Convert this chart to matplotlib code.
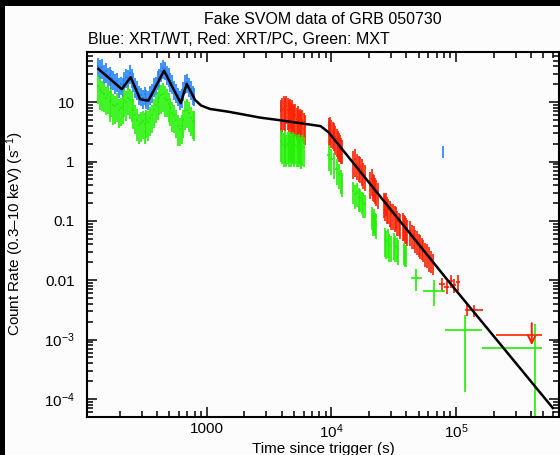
import numpy as np
import matplotlib
matplotlib.use('Agg')
import matplotlib.pyplot as plt
from matplotlib.patches import Rectangle

plt.rcParams['font.family'] = ['Liberation Sans', 'DejaVu Sans']
plt.rcParams['mathtext.fontset'] = 'custom'
plt.rcParams['mathtext.rm'] = 'Liberation Sans'

# colours of the three instruments
c_wt = '#2080ff'
c_pc = '#ff2000'
c_mxt = '#20f000'

# --- XRT/WT (blue), early flaring part
wt_t = [135, 140, 145, 150, 155, 160, 166, 172, 178, 184, 190, 197, 204, 211, 218, 225,
        233, 241, 249, 258, 267, 276, 286, 296, 306, 317, 328, 339, 351, 363, 376, 389,
        403, 417, 431, 446, 462, 478, 494, 511, 529, 548, 567, 587, 607, 628, 650, 673,
        696, 720, 745, 771, 797]
wt_r = [41, 38, 39, 31, 33, 28, 29, 26, 25, 22, 23, 19, 20, 19, 24, 27,
        26, 31, 27, 23, 19, 17, 14, 13, 12, 13.5, 12, 11.5, 14, 15, 19, 20,
        25, 27, 34, 38, 36, 30, 28, 23, 21, 17, 15, 13, 11.5, 12.5, 16, 21,
        22, 19, 17, 14, 13]
wt_e = [14, 13, 14, 11, 12, 10, 10, 9, 9, 8, 8, 7, 7, 7, 8, 9.5,
        9, 11, 9.5, 8, 7, 6, 5, 4.5, 4.2, 4.7, 4.2, 4, 5, 5.2, 6.6, 7,
        8.8, 9.5, 12, 13, 12.5, 10.5, 9.8, 8, 7.3, 6, 5.2, 4.5, 4, 4.4, 5.6, 7.3,
        7.7, 6.6, 6, 4.9, 4.5]

# isolated WT bins later on
wt2_t = [3930, 9480, 78400]
wt2_r = [8.5, 4.2, 1.5]
wt2_e = [1.5, 0.6, 0.35]

# --- MXT (green), early part
mx_t = wt_t
mx_r = [19, 16, 15, 14, 12, 13, 10, 11, 9, 8.5, 9.5, 7.5, 8, 8.5, 11, 10,
        12, 11, 10, 7.5, 6, 5, 4.2, 4.5, 4.8, 4.3, 5, 4.6, 5.5, 6, 7.5, 9,
        10, 12, 13, 14, 12, 11, 9.5, 8, 6.5, 6, 5, 4, 3.6, 4, 5, 7,
        7.5, 6.5, 5.5, 4.8, 4.6]
mx_e = [9.5, 8.5, 7.8, 7.2, 6, 6.6, 5.4, 5.4, 4.8, 4.2, 4.8, 3.8, 4, 4.2, 5.4, 5.2,
        6, 5.8, 5.4, 4, 3.1, 2.8, 2.2, 2.4, 2.4, 2.3, 2.5, 2.4, 2.8, 3, 3.8, 4.6,
        5, 6, 6.6, 7.2, 6.4, 5.4, 4.8, 4, 3.4, 3, 2.5, 2.2, 1.8, 2, 2.5, 3.6,
        3.8, 3.4, 2.8, 2.4, 2.4]

# --- XRT/PC (red), orbits
pc_t = [3950, 4050, 4150, 4250, 4350, 4450, 4550, 4650, 4750, 4850, 4950, 5050, 5150,
        5250, 5350, 5450, 5550, 5700, 5850, 6000, 6150,
        9500, 9750, 10000, 10250, 10500, 10750, 11000, 11250, 11500, 11750, 12000, 12250,
        15000, 15500, 16000, 16500, 17000, 17500, 18000, 18600,
        20500, 21000, 21500, 22000, 22500, 23000, 23600,
        26200, 26800, 27400, 28000, 28600, 29300, 30000,
        31400, 32200, 33000, 33800, 34600, 35400,
        37700, 38500, 39300, 40000, 40700,
        42800, 44200, 45600, 47000, 48500, 50000, 51700, 53400,
        54400, 56500, 58700, 61000, 63300, 65600]
pc_r = [7, 7.5, 8, 7.5, 8.5, 7.5, 7, 7.5, 6.5, 7, 6, 5.8, 6,
        5.2, 5.5, 4.8, 5, 4.6, 4.8, 4.3, 4.0,
        3.6, 3.8, 3.4, 3.1, 3.0, 2.6, 2.4, 2.2, 2.0, 1.9, 1.7, 1.6,
        1.0, 1.1, 0.9, 0.85, 0.8, 0.75, 0.65, 0.6,
        0.45, 0.5, 0.42, 0.4, 0.36, 0.33, 0.3,
        0.2, 0.19, 0.21, 0.17, 0.16, 0.15, 0.13,
        0.13, 0.12, 0.12, 0.1, 0.095, 0.09,
        0.09, 0.085, 0.08, 0.075, 0.07,
        0.068, 0.06, 0.058, 0.05, 0.047, 0.043, 0.04, 0.037,
        0.034, 0.03, 0.028, 0.025, 0.022, 0.02]
pc_e = [4, 4.3, 4.6, 4.2, 4.2, 4.1, 3.8, 4, 3.6, 3.8, 3.4, 3.2, 3.3,
        2.9, 3, 2.7, 2.8, 2.5, 2.6, 2.3, 2.1,
        1.8, 1.9, 1.7, 1.5, 1.5, 1.3, 1.2, 1.1, 1.0, 0.9, 0.8, 0.7,
        0.5, 0.55, 0.42, 0.4, 0.37, 0.36, 0.3, 0.28,
        0.22, 0.24, 0.2, 0.19, 0.17, 0.15, 0.14,
        0.09, 0.09, 0.09, 0.08, 0.07, 0.07, 0.06,
        0.06, 0.055, 0.05, 0.045, 0.04, 0.04,
        0.045, 0.04, 0.04, 0.035, 0.033,
        0.03, 0.026, 0.025, 0.021, 0.02, 0.018, 0.017, 0.015,
        0.014, 0.013, 0.012, 0.011, 0.009, 0.008]

# --- MXT (green), orbits
mo_t = [3950, 4050, 4150, 4250, 4350, 4450, 4550, 4650, 4750, 4850, 4950, 5050, 5150,
        5250, 5350, 5450, 5550, 5700, 5850, 6000,
        9500, 10000, 10500, 11000, 11500, 12000, 12250,
        15000, 15500, 16000, 16500, 17000, 17500, 18000, 18600,
        21000, 21500, 22000, 22500, 23000,
        26800, 27500, 28200, 29000, 29800,
        31500, 32500, 33500, 34400,
        38200, 39200, 40000]
mo_r = [2.2, 2.0, 1.9, 2.1, 1.8, 2.0, 1.9, 2.1, 1.8, 1.9, 2.0, 1.7, 1.9,
        1.8, 1.7, 1.9, 1.7, 1.6, 1.8, 1.7,
        1.3, 1.1, 0.95, 0.75, 0.62, 0.5, 0.45,
        0.32, 0.28, 0.3, 0.25, 0.24, 0.22, 0.2, 0.19,
        0.12, 0.1, 0.11, 0.095, 0.09,
        0.05, 0.045, 0.048, 0.04, 0.038,
        0.042, 0.038, 0.036, 0.033,
        0.03, 0.028, 0.027]
mo_e = [1.2, 1.1, 1.1, 1.2, 1.0, 1.1, 1.1, 1.1, 1.0, 1.0, 1.1, 0.9, 1.0,
        1.0, 0.9, 1.0, 0.9, 0.85, 0.95, 0.9,
        0.6, 0.5, 0.45, 0.35, 0.28, 0.22, 0.2,
        0.13, 0.12, 0.13, 0.11, 0.1, 0.09, 0.09, 0.08,
        0.05, 0.045, 0.05, 0.04, 0.04,
        0.025, 0.022, 0.024, 0.02, 0.018,
        0.02, 0.018, 0.016, 0.015,
        0.012, 0.011, 0.01]

# late PC bins with time bars
pcl_t = [76900, 84300, 90800, 96600, 104000, 123000, 140000]
pcl_r = [0.0086, 0.0078, 0.0098, 0.0084, 0.0095, 0.0032, 0.0031]
pcl_e = [0.0022, 0.002, 0.0025, 0.0022, 0.0028, 0.0007, 0.0007]
pcl_lo = [4000, 3800, 3500, 3500, 4500, 5000, 12000]
pcl_hi = [4000, 3800, 3500, 3500, 4500, 5000, 26000]

# PC upper limit
ul_t = 405000
ul_r = 0.0012
ul_lo = 210000
ul_hi = 489000

# late MXT bins
mxl_t = [47500, 66700, 118000, 431000]
mxl_r = [0.0108, 0.0067, 0.00142, 0.00072]
mxl_tlo = [43400, 54700, 81900, 161000]
mxl_thi = [53100, 81900, 161000, 493000]
mxl_rlo = [0.0065, 0.0037, 0.000128, 1e-6]
mxl_rhi = [0.0152, 0.0101, 0.0026, 0.0018]

# best-fit model (black line)
mod_t = [135, 208, 245, 292, 340, 454, 618, 690, 806, 900, 1060, 1500, 2680, 3780,
         8200, 9500, 84300, 598000]
mod_r = [36.4, 16.6, 26.4, 11.2, 10.6, 34, 9.6, 20.3, 10.9, 8.8, 7.7, 6.9, 5.5, 5.0,
         3.95, 3.1, 0.0104, 7.0e-5]


def half_bins(t):
    # half bin width: half the gap to the nearest neighbouring bin
    t = np.asarray(t, float)
    d = np.diff(t)
    left = np.r_[d[0], d]
    right = np.r_[d, d[-1]]
    return np.minimum(left, right) / 2


W, H = 560, 455
fig = plt.figure(figsize=(W / 100, H / 100), dpi=100, facecolor='black')
fig.patches.append(Rectangle((5 / W, 0), 1, 1 - 6 / H, transform=fig.transFigure,
                             facecolor='#fcfcfc', edgecolor='none', zorder=-10))
ax = fig.add_axes([87.3 / W, 1 - 416.7 / H, (559 - 87.3) / W, (416.7 - 51.7) / H])
ax.set_facecolor('#fcfcfc')

eb = dict(fmt='none', elinewidth=1.2, capsize=0)
ax.errorbar(wt_t, wt_r, yerr=wt_e, xerr=half_bins(wt_t), ecolor=c_wt, **eb)
ax.errorbar(wt2_t, wt2_r, yerr=wt2_e, ecolor=c_wt, **eb)
ax.errorbar(pc_t, pc_r, yerr=pc_e, xerr=half_bins(pc_t), ecolor=c_pc, **eb)
ax.errorbar(pcl_t, pcl_r, yerr=pcl_e, xerr=[pcl_lo, pcl_hi], ecolor=c_pc, **eb)
ax.errorbar([ul_t], [ul_r], xerr=[[ul_t - ul_lo], [ul_hi - ul_t]], ecolor=c_pc, **eb)
ax.annotate('', xy=(ul_t, 0.00072), xytext=(ul_t, 0.0021),
            arrowprops=dict(arrowstyle='->', color=c_pc, lw=1.4, mutation_scale=14))
ax.errorbar(mx_t, mx_r, yerr=mx_e, xerr=half_bins(mx_t), ecolor=c_mxt, **eb)
ax.errorbar(mo_t, mo_r, yerr=mo_e, xerr=half_bins(mo_t), ecolor=c_mxt, **eb)
mxl_t = np.array(mxl_t)
mxl_r = np.array(mxl_r)
ax.errorbar(mxl_t, mxl_r,
            xerr=[mxl_t - np.array(mxl_tlo), np.array(mxl_thi) - mxl_t],
            yerr=[mxl_r - np.array(mxl_rlo), np.array(mxl_rhi) - mxl_r],
            ecolor=c_mxt, **eb)
ax.plot(mod_t, mod_r, '-', color='black', lw=1.8)

ax.set_xscale('log')
ax.set_yscale('log')
ax.set_xlim(110, 6.7e5)
ax.set_ylim(5e-5, 71)

ax.set_xticks([1000, 1e4, 1e5])
ax.set_xticklabels(['1000', r'$\mathregular{10^4}$', r'$\mathregular{10^5}$'])
ax.set_yticks([1e-4, 1e-3, 0.01, 0.1, 1, 10])
ax.set_yticklabels([r'$\mathregular{10^{-4}}$', r'$\mathregular{10^{-3}}$', '0.01', '0.1', '1', '10'])
ax.tick_params(which='both', direction='in', top=True, right=True, labelsize=11, width=1.1)
ax.tick_params(axis='x', which='major', length=7, pad=4)
ax.tick_params(axis='y', which='major', length=7, pad=9)
ax.tick_params(which='minor', length=4)
for s in ax.spines.values():
    s.set_linewidth(1.5)

fig.text((87.3 + 559) / 2 / W, 1 - 20 / H, 'Fake SVOM data of GRB 050730',
         ha='center', va='center', fontsize=11.5)
fig.text(87.5 / W, 1 - 39 / H, 'Blue: XRT/WT, Red: XRT/PC, Green: MXT',
         ha='left', va='center', fontsize=11.5)
fig.text((87.3 + 559) / 2 / W, 1 - 449 / H, 'Time since trigger (s)',
         ha='center', va='center', fontsize=11)
fig.text(15 / W, 1 - 234 / H, r'Count Rate (0.3–10 keV) (s$\mathregular{^{-1}}$)',
         rotation=90, ha='center', va='center', fontsize=11)

fig.savefig('out.png', dpi=100, facecolor=fig.get_facecolor())
